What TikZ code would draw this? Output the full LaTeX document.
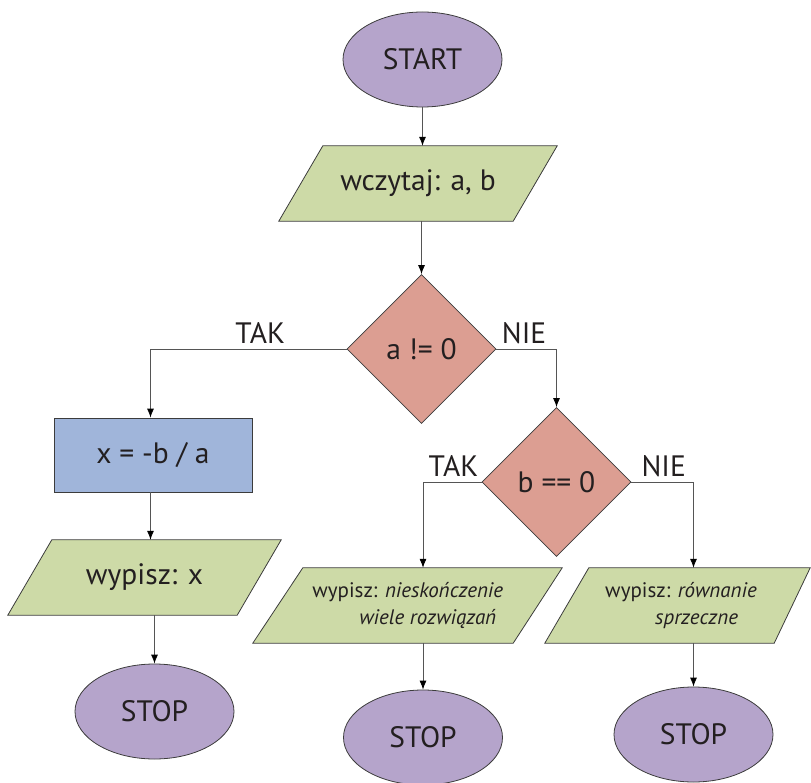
\documentclass[tikz,border=0pt]{standalone}
\usepackage{fontspec}
\setmainfont{PT Sans}
\usetikzlibrary{shapes.geometric,arrows.meta,backgrounds}

\definecolor{termfill}{RGB}{181,164,203}
\definecolor{iofill}{RGB}{205,218,167}
\definecolor{decfill}{RGB}{220,158,146}
\definecolor{procfill}{RGB}{160,181,218}
\definecolor{outline}{RGB}{60,60,60}
\definecolor{wire}{RGB}{85,85,85}
\definecolor{ink}{RGB}{35,31,32}

\newcommand{\bigtxt}{\fontsize{29.5}{34}\selectfont}
\newcommand{\smalltxt}{\fontsize{21}{27}\selectfont}
% slanted outline round a text node: name, left slant, right slant
\newcommand{\ioshape}[3]{%
  \path[fill=iofill, draw=outline, line width=0.8pt]
    ([xshift=-#2/2]#1.south west) -- ([xshift=-#3/2]#1.south east)
    -- ([xshift=#3/2]#1.north east) -- ([xshift=#2/2]#1.north west) -- cycle;}

\tikzset{
  term/.style={ellipse, draw=outline, fill=termfill, line width=0.8pt,
    minimum width=159pt, minimum height=95pt, inner sep=0pt, font=\bigtxt},
  iobox/.style={rectangle, minimum height=75pt, inner sep=0pt, font=\bigtxt},
  decision/.style={diamond, aspect=1, draw=outline, fill=decfill, line width=0.8pt,
    minimum width=149pt, minimum height=149pt, inner sep=0pt, font=\bigtxt},
  process/.style={rectangle, draw=outline, fill=procfill, line width=0.8pt,
    minimum width=198pt, minimum height=74pt, inner sep=0pt, font=\bigtxt},
  flow/.style={draw=wire, line width=0.8pt, -{Latex[length=9pt,width=7pt,color=black]}},
  answer/.style={font=\bigtxt, inner sep=1pt, above=4pt}
}

\begin{document}
\begin{tikzpicture}[x=1pt, y=-1pt, text=ink]
  \useasboundingbox (0,0) rectangle (811,783);

  \node[term] (start) at (422.5,59.5) {START};
  \node[iobox, minimum width=234pt] (read) at (418,183.5) {wczytaj: a, b};
  \node[decision] (anz) at (421.5,349) {a != 0};
  \node[process] (calc) at (153,455) {x = -b / a};
  \node[iobox, minimum width=229pt] (printx) at (144.5,577.5) {wypisz: x};
  \node[term] (stopx) at (154.5,711.5) {STOP};

  \node[decision] (bz) at (556.5,482) {b == 0};
  \node[iobox, minimum width=259.5pt, font=\smalltxt, align=left] (printinf) at (407.75,605.5)
        {wypisz: \textit{nieskończenie}\\\hspace*{47pt}\textit{wiele rozwiązań}};
  \node[term] (stopinf) at (423,737.5) {STOP};
  \node[iobox, minimum width=225pt, font=\smalltxt, align=left] (printnone) at (679.5,605.5)
        {\hspace*{3pt}wypisz: \textit{równanie}\\\hspace*{53pt}\textit{sprzeczne}};
  \node[term] (stopnone) at (693.5,734.5) {STOP};

  \begin{scope}[on background layer]
    \ioshape{read}{44}{44}
    \ioshape{printx}{44}{44}
    \ioshape{printinf}{50}{49}
    \ioshape{printnone}{44}{36}
  \end{scope}

  \draw[flow] (start) -- (start |- read.north);
  \draw[flow] (read.south -| anz) -- (anz);
  \draw[flow] (anz.west) -| node[answer, pos=0.22] {TAK} (calc.north -| 150.5,0);
  \draw[flow] (anz.east) -| node[answer, pos=0.23] {NIE} (bz.north);
  \draw[flow] (calc.south -| 150.5,0) -- (printx.north -| 150.5,0);
  \draw[flow] (printx.south -| stopx) -- (stopx);
  \draw[flow] (bz.west) -| node[answer, pos=0.24] {TAK} (printinf.north -| stopinf);
  \draw[flow] (printinf.south -| stopinf) -- (stopinf);
  \draw[flow] (bz.east) -| node[answer, pos=0.26] {NIE} (printnone.north -| stopnone);
  \draw[flow] (printnone.south -| stopnone) -- (stopnone);
\end{tikzpicture}
\end{document}
